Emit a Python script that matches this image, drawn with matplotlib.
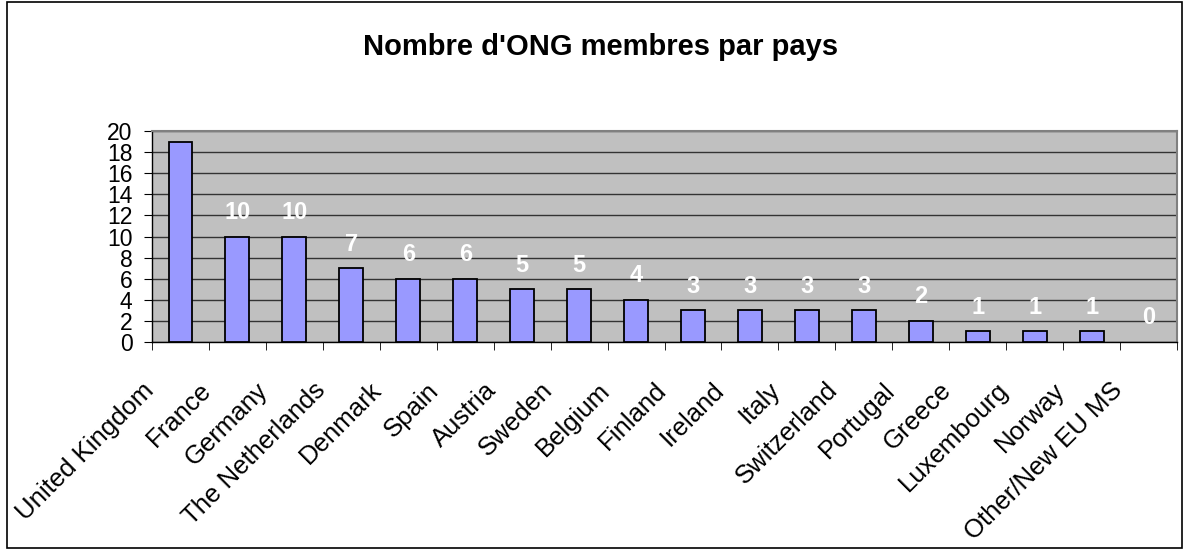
import matplotlib
matplotlib.use("Agg")
import matplotlib.pyplot as plt
from matplotlib.patches import Rectangle
from matplotlib.transforms import ScaledTranslation
import numpy as np

countries = ["United Kingdom", "France", "Germany", "The Netherlands", "Denmark",
             "Spain", "Austria", "Sweden", "Belgium", "Finland", "Ireland", "Italy",
             "Switzerland", "Portugal", "Greece", "Luxembourg", "Norway", "Other/New EU MS"]
values = [19, 10, 10, 7, 6, 6, 5, 5, 4, 3, 3, 3, 3, 2, 1, 1, 1, 0]
yticks = list(range(0, 21, 2))
title = "Nombre d'ONG membres par pays"

plt.rcParams['font.family'] = ['Liberation Sans', 'DejaVu Sans']

W, H = 1190, 550
fig = plt.figure(figsize=(W / 100, H / 100), dpi=100)
fig.patch.set_facecolor("white")

# outer frame
fig.patches.append(Rectangle((7 / W, 2 / H), (1182 - 7) / W, (548 - 2) / H,
                             transform=fig.transFigure, fill=False,
                             edgecolor="black", linewidth=1.2))

left, right, top, bottom = 152, 1177, 131, 342
ax = fig.add_axes([left / W, 1 - bottom / H, (right - left) / W, (bottom - top) / H])
ax.set_facecolor("#C0C0C0")

x = np.arange(len(countries))
lws = [1.3 if v > 0 else 0 for v in values]
ax.bar(x, values, width=0.42, color="#9999FF", edgecolor="black", linewidth=lws, zorder=3)

ax.set_xlim(-0.5, len(countries) - 0.5)
ax.set_ylim(0, 20)
ax.set_yticks(yticks)
ax.set_yticklabels([str(t) for t in yticks], fontsize=16.5)
ax.yaxis.grid(True, color="#333333", linewidth=1.0, zorder=1)
ax.set_axisbelow(True)

ax.set_xticks(x)
ax.set_xticklabels(countries, rotation=45, ha="right", va="center",
                   rotation_mode="anchor", fontsize=18.5)
ax.tick_params(axis="x", length=0, pad=32)
shift = ScaledTranslation(-30 / 100, 0, fig.dpi_scale_trans)
for lbl in ax.get_xticklabels():
    lbl.set_transform(lbl.get_transform() + shift)
ax.set_xticks(np.arange(len(countries) + 1) - 0.5, minor=True)
ax.tick_params(axis="x", which="minor", length=6, color="black", direction="out")
ax.tick_params(axis="y", length=6, color="black", direction="out", pad=8)

for s in ["left", "bottom"]:
    ax.spines[s].set_color("black")
    ax.spines[s].set_linewidth(1.0)
for s in ["top", "right"]:
    ax.spines[s].set_color("#808080")
    ax.spines[s].set_linewidth(1.5)

for xi, v in zip(x, values):
    ax.annotate(str(v), (xi, v), xytext=(0, 9), textcoords="offset points",
                ha="center", va="bottom", color="white", fontsize=17,
                fontweight="bold", zorder=4, annotation_clip=False, clip_on=True)

fig.text(601 / W, 1 - 47 / H, title, ha="center", va="center",
         fontsize=21, fontweight="bold")

fig.savefig("out.png", dpi=100)
